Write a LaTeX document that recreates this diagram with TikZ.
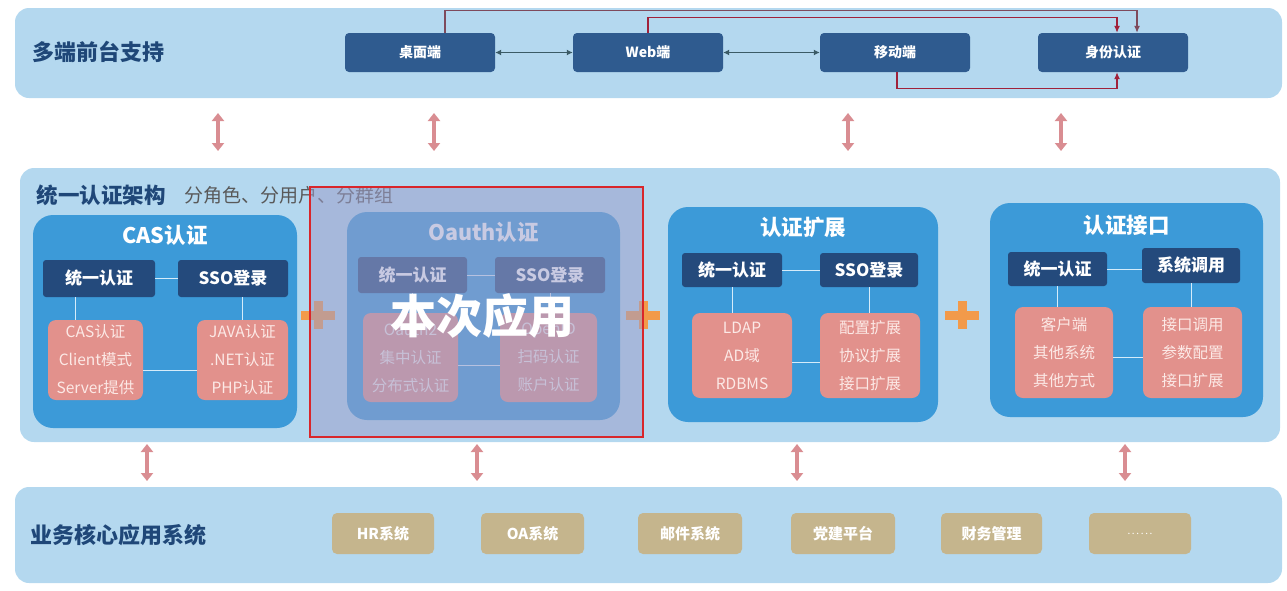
\documentclass[tikz,border=0pt]{standalone}
\usepackage{fontspec}
\setmainfont{Noto Sans CJK SC}
\usetikzlibrary{positioning,arrows.meta}

\definecolor{bandblue}{HTML}{B4D8EF}
\definecolor{topnavy}{HTML}{2F5B8F}
\definecolor{titleblue}{HTML}{1F4778}
\definecolor{grpblue}{HTML}{3C9AD8}
\definecolor{innernavy}{HTML}{244A7C}
\definecolor{pinkfill}{HTML}{E2918C}
\definecolor{pinktxt}{HTML}{FCE9E6}
\definecolor{tanfill}{HTML}{C5B58D}
\definecolor{arrowpink}{HTML}{D98D92}
\definecolor{plusorange}{HTML}{F29A4A}
\definecolor{redln}{HTML}{A0213A}
\definecolor{darkredln}{HTML}{7E4A5C}
\definecolor{tealln}{HTML}{3B5B66}
\definecolor{inlnc}{HTML}{D6ECFA}
\definecolor{veilfill}{HTML}{9C9FCB}
\definecolor{veilred}{HTML}{D9262B}

\newcommand\fsz[2]{\fontsize{#1}{#2}\selectfont}

\tikzset{
  band/.style={fill=bandblue, rounded corners=14pt},
  bandttl/.style={anchor=west, text=titleblue, font=\bfseries\fsz{22}{26}},
  topbox/.style={fill=topnavy, rounded corners=4pt, text=white, font=\bfseries\fsz{14}{16},
    minimum width=150pt, minimum height=39pt},
  grpbox/.style={fill=grpblue, rounded corners=20pt},
  grpttl/.style={text=white, font=\bfseries\fsz{21.5}{24}},
  darkbox/.style={fill=innernavy, rounded corners=3pt, text=white, font=\bfseries\fsz{17}{20}},
  pinkbox/.style={fill=pinkfill, rounded corners=8pt, text=pinktxt, align=center, font=\fsz{15.5}{28}},
  tanbox/.style={fill=tanfill, rounded corners=5pt, text=white, font=\bfseries\fsz{15}{17},
    minimum height=41pt},
  inln/.style={draw=inlnc, line width=1pt},
  updown/.style={arrowpink, line width=4.5pt, {Triangle[width=12pt,length=8pt]}-{Triangle[width=12pt,length=8pt]}},
  flowln/.style={line width=1.2pt, -{Latex[length=7pt,width=6pt]}},
  plussign/.style={plusorange, line width=9pt},
}

\begin{document}
\begin{tikzpicture}[x=1pt, y=-1pt]
  \useasboundingbox (0,0) rectangle (1287,590);

  % === Top layer: front ends ===
  \fill[band] (15,8) rectangle (1282,98);
  \node[bandttl] (topttl) at (29,52) {多端前台支持};
  \node[topbox] (desk) at (420,52.5) {桌面端};
  \node[topbox] (web) at (648,52.5) {Web端};
  \node[topbox] (mob) at (895,52.5) {移动端};
  \node[topbox] (auth) at (1113,52.5) {身份认证};
  \draw[tealln, line width=1.3pt, {Latex[length=6pt,width=6pt]}-{Latex[length=6pt,width=6pt]}] (desk.east) -- (web.west);
  \draw[tealln, line width=1.3pt, {Latex[length=6pt,width=6pt]}-{Latex[length=6pt,width=6pt]}] (web.east) -- (mob.west);
  % red flows into the identity box
  \draw[flowln, darkredln] ([xshift=25pt]desk.north) -- ++(0,-22) -| ([xshift=24pt]auth.north);
  \draw[flowln, redln] (web.north) -- ++(0,-15) -| ([xshift=4pt]auth.north);
  \draw[flowln, redln] ([xshift=2pt]mob.south) -- ++(0,16) -| ([xshift=4pt]auth.south);

  % vertical links top <-> middle
  \foreach \x in {218,434,848,1061}
    \draw[updown] (\x,113) -- (\x,151);

  % === Middle layer: unified auth ===
  \fill[band] (20,168) rectangle (1280,442);
  \node[bandttl, font=\bfseries\fsz{21.5}{25}] (midttl) at (33,195) {统一认证架构};
  \node[right=12pt of midttl, text=black!65, font=\fsz{19}{22}] (midsub) {分角色、分用户、分群组};

  % CAS
  \node[grpbox, minimum width=264pt, minimum height=213pt] (cas) at (165,321.5) {};
  \node[grpttl] (casT) at (165,235) {CAS认证};
  \node[darkbox, minimum width=112pt, minimum height=37pt] (casA) at (99,278.5) {统一认证};
  \node[darkbox, minimum width=110pt, minimum height=37pt] (casB) at (233,278.5) {SSO登录};
  \node[pinkbox, minimum width=95pt, minimum height=80pt] (casL) at (95.5,360) {CAS认证\\Client模式\\Server提供};
  \node[pinkbox, minimum width=91pt, minimum height=80pt] (casR) at (242.5,360) {JAVA认证\\.NET认证\\PHP认证};
  \draw[inln] (casA.east) -- (casB.west);
  \draw[inln] ([xshift=-24pt]casA.south) -- ([xshift=-24pt]casA.south |- casL.north);
  \draw[inln] ([xshift=9pt]casB.south) -- ([xshift=9pt]casB.south |- casR.north);
  \draw[inln] ([yshift=-10pt]casL.east) -- ([yshift=-10pt]casL.east -| casR.west);

  % Oauth
  \node[grpbox, minimum width=273pt, minimum height=208pt] (oau) at (483.5,316) {};
  \node[grpttl] (oauT) at (483.5,232) {Oauth认证};
  \node[darkbox, minimum width=109pt, minimum height=36pt] (oauA) at (412.5,275) {统一认证};
  \node[darkbox, minimum width=110pt, minimum height=36pt] (oauB) at (550,275) {SSO登录};
  \node[pinkbox, minimum width=95pt, minimum height=89pt] (oauL) at (410.5,357.5) {Oauth2\\集中认证\\分布式认证};
  \node[pinkbox, minimum width=97pt, minimum height=89pt] (oauR) at (548.5,357.5) {OpenID\\扫码认证\\账户认证};
  \draw[inln] (oauA.east) -- (oauB.west);
  \draw[inln] (oauA.south) -- (oauA.south |- oauL.north);
  \draw[inln] (oauB.south) -- (oauB.south |- oauR.north);
  \draw[inln] ([yshift=-8pt]oauL.east) -- ([yshift=-8pt]oauL.east -| oauR.west);

  % extension
  \node[grpbox, minimum width=270pt, minimum height=215pt] (ext) at (803,314.5) {};
  \node[grpttl] (extT) at (803,227) {认证扩展};
  \node[darkbox, minimum width=100pt, minimum height=34pt] (extA) at (732,270) {统一认证};
  \node[darkbox, minimum width=98pt, minimum height=34pt] (extB) at (869,270) {SSO登录};
  \node[pinkbox, minimum width=100pt, minimum height=85pt] (extL) at (742,355.5) {LDAP\\AD域\\RDBMS};
  \node[pinkbox, minimum width=100pt, minimum height=85pt] (extR) at (870,355.5) {配置扩展\\协议扩展\\接口扩展};
  \draw[inln] (extA.east) -- (extB.west);
  \draw[inln] (extA.south) -- (extA.south |- extL.north);
  \draw[inln] (extB.south) -- (extB.south |- extR.north);
  \draw[inln] ([yshift=-7pt]extL.east) -- ([yshift=-7pt]extL.east -| extR.west);

  % interface
  \node[grpbox, minimum width=273pt, minimum height=214pt] (itf) at (1126.5,310) {};
  \node[grpttl] (itfT) at (1126.5,225) {认证接口};
  \node[darkbox, minimum width=99pt, minimum height=34pt] (itfA) at (1057.5,269) {统一认证};
  \node[darkbox, minimum width=98pt, minimum height=35pt] (itfB) at (1191,265.5) {系统调用};
  \node[pinkbox, minimum width=98pt, minimum height=91pt] (itfL) at (1064,352.5) {客户端\\其他系统\\其他方式};
  \node[pinkbox, minimum width=99pt, minimum height=91pt] (itfR) at (1192.5,352.5) {接口调用\\参数配置\\接口扩展};
  \draw[inln] (itfA.east) -- (itfA.east -| itfB.west);
  \draw[inln] (itfA.south) -- (itfA.south |- itfL.north);
  \draw[inln] (itfB.south) -- (itfB.south |- itfR.north);
  \draw[inln] ([yshift=-5pt]itfL.east) -- ([yshift=-5pt]itfL.east -| itfR.west);

  % plus signs
  \foreach \x in {318,643,962}
    \draw[plussign] (\x-17,315) -- (\x+17,315) (\x,301) -- (\x,329);

  % highlight of the applied part
  \fill[veilfill, opacity=0.55] (310,187) rectangle (643,437);
  \draw[veilred, line width=2.5pt] (310,187) rectangle (643,437);
  \node[text=white, font=\bfseries\fsz{46}{50}] (used) at (482,316) {本次应用};

  % vertical links middle <-> bottom
  \foreach \x in {147,477,797,1125}
    \draw[updown] (\x,444) -- (\x,481);

  % === Bottom layer: business systems ===
  \fill[band] (15,487) rectangle (1282,583);
  \node[bandttl] (botttl) at (27,535) {业务核心应用系统};
  \node[tanbox, minimum width=102pt] (hr) at (383,533.5) {HR系统};
  \node[tanbox, minimum width=103pt] (oa) at (532.5,533.5) {OA系统};
  \node[tanbox, minimum width=104pt] (mail) at (690,533.5) {邮件系统};
  \node[tanbox, minimum width=104pt] (party) at (843,533.5) {党建平台};
  \node[tanbox, minimum width=101pt] (fin) at (991.5,533.5) {财务管理};
  \node[tanbox, minimum width=102pt, font=\fsz{10}{12}] (more) at (1140,533.5) {.\,.\,.\,.\,.\,.};
\end{tikzpicture}
\end{document}
